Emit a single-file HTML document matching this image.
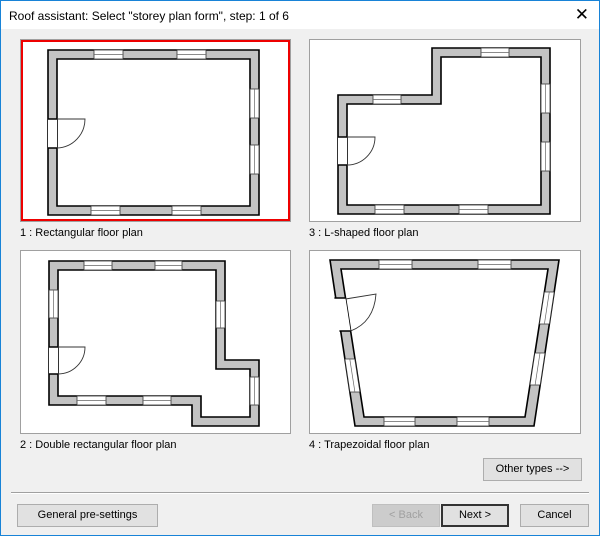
<!DOCTYPE html>
<html><head><meta charset="utf-8">
<style>
*{margin:0;padding:0;box-sizing:border-box}
body{width:600px;height:536px;overflow:hidden;background:#f0f0f0;font-family:"Liberation Sans",sans-serif;position:relative}
.frame{position:absolute;left:0;top:0;width:600px;height:536px;border:1px solid #1883d7;border-top:none}
.title{position:absolute;left:0;top:0;width:600px;height:29px;background:#fff;border:1px solid #1883d7;border-bottom:none;font-size:12px;color:#000;padding:8px 0 0 8px}
.x{position:absolute;right:10px;top:4px;font-size:17px;font-weight:normal;color:#000}
.lbl{position:absolute;font-size:11px;color:#000}
.btn{position:absolute;height:23px;background:#e1e1e1;border:1px solid #adadad;font-size:11px;text-align:center;line-height:21px;color:#000}
.sep{position:absolute;left:11px;width:578px;top:492px;height:2px;border-top:1px solid #a0a0a0;border-bottom:1px solid #fff}
svg{position:absolute;left:0;top:0}
</style></head><body>
<div class="frame"></div>
<div class="title">Roof assistant: Select "storey plan form", step: 1 of 6<span class="x">✕</span></div>
<svg width="600" height="536" viewBox="0 0 600 536">
<g fill="#fff" stroke="#a0a0a0" stroke-width="1">
<rect x="20.5" y="39.5" width="270" height="182"/>
<rect x="309.5" y="39.5" width="271" height="182"/>
<rect x="20.5" y="250.5" width="270" height="183"/>
<rect x="309.5" y="250.5" width="271" height="183"/>
</g>
<rect x="22" y="41" width="267" height="179" fill="none" stroke="#e00" stroke-width="2"/>
<g fill="#c3c3c3" stroke="#000" stroke-width="1.6" fill-rule="evenodd" stroke-linejoin="miter">
<path d="M48 50H259V215H48Z M57 59V206H250V59Z"/>
<path d="M338 95H432V48H550V214H338Z M347 104V205H541V57H441V104Z"/>
<path d="M49 261H225V360H259V426H192V405H49Z M58 270V396H201V417H250V369H216V270Z"/>
<path d="M330 260H559L534 426H355Z M341 269L364 417H525L548 269Z"/>
</g>
<g fill="#fff" stroke="#333" stroke-width="0.8">
<!-- rect -->
<rect x="94" y="50" width="29" height="9"/><rect x="177" y="50" width="29" height="9"/>
<rect x="91" y="206" width="29" height="9"/><rect x="172" y="206" width="29" height="9"/>
<rect x="250" y="89" width="9" height="29"/><rect x="250" y="145" width="9" height="29"/>
<rect x="48" y="119" width="9" height="29" stroke="none"/>
<!-- L -->
<rect x="481" y="48" width="28" height="9"/><rect x="373" y="95" width="28" height="9"/>
<rect x="541" y="84" width="9" height="29"/><rect x="541" y="142" width="9" height="29"/>
<rect x="375" y="205" width="29" height="9"/><rect x="459" y="205" width="29" height="9"/>
<rect x="338" y="137" width="9" height="28" stroke="none"/>
<!-- double -->
<rect x="84" y="261" width="28" height="9"/><rect x="155" y="261" width="27" height="9"/>
<rect x="49" y="290" width="9" height="28"/>
<rect x="216" y="301" width="9" height="27"/><rect x="250" y="377" width="9" height="28"/>
<rect x="77" y="396" width="29" height="9"/><rect x="143" y="396" width="28" height="9"/>
<rect x="49" y="347" width="9" height="27" stroke="none"/>
<!-- trap -->
<rect x="379" y="260" width="33" height="9"/><rect x="478" y="260" width="33" height="9"/>
<rect x="384" y="417" width="31" height="9"/><rect x="457" y="417" width="32" height="9"/>
<polygon points="344.9,359 354.8,359 359.9,392 349.9,392"/>
<polygon points="554.2,292 544.4,292 539.4,324 549.4,324"/>
<polygon points="545,353 534.9,353 530,385 540.2,385"/>
<polygon points="334.4,298 345.5,298 350.6,331 339.4,331" stroke="none"/>
</g>
<g stroke="#666" stroke-width="0.7" fill="none">
<path d="M94 54.5H123M177 54.5H206M91 210.5H120M172 210.5H201M254.5 89V118M254.5 145V174"/>
<path d="M481 52.5H509M373 99.5H401M545.5 84V113M545.5 142V171M375 209.5H404M459 209.5H488"/>
<path d="M84 265.5H112M155 265.5H182M53.5 290V318M220.5 301V328M254.5 377V405M77 400.5H106M143 400.5H171"/>
<path d="M379 264.5H412M478 264.5H511M384 421.5H415M457 421.5H489M349.8 359L354.9 392M549.3 292L544.4 324M540 353L535.1 385"/>
</g>
<g stroke="#333" stroke-width="0.9" fill="none">
<path d="M57 119H85A29 29 0 0 1 57 148"/>
<path d="M347 137H375A28 28 0 0 1 347 165"/>
<path d="M58 347H85A27 27 0 0 1 58 374"/>
<path d="M345.5 299L376 294Q374 322 350.6 331"/>
</g>
<g stroke="#000" stroke-width="1.4">
<path d="M48 119H57M48 148H57M338 137H347M338 165H347M49 347H58M49 374H58M334.4 298H345.5M339.4 331H350.6"/>
</g>
</svg>
<div class="lbl" style="left:20px;top:227px">1 : Rectangular floor plan</div>
<div class="lbl" style="left:309px;top:227px">3 : L-shaped floor plan</div>
<div class="lbl" style="left:20px;top:439px">2 : Double rectangular floor plan</div>
<div class="lbl" style="left:309px;top:439px">4 : Trapezoidal floor plan</div>
<div class="btn" style="left:483px;top:458px;width:99px">Other types --&gt;</div>
<div class="sep"></div>
<div class="btn" style="left:17px;top:504px;width:141px">General pre-settings</div>
<div class="btn" style="left:372px;top:504px;width:68px;color:#a0a0a0;border-color:#bfbfbf;background:#ccc">&lt; Back</div>
<div class="btn" style="left:441px;top:504px;width:68px;border:2px solid #333;line-height:19px">Next &gt;</div>
<div class="btn" style="left:520px;top:504px;width:69px">Cancel</div>
</body></html>
